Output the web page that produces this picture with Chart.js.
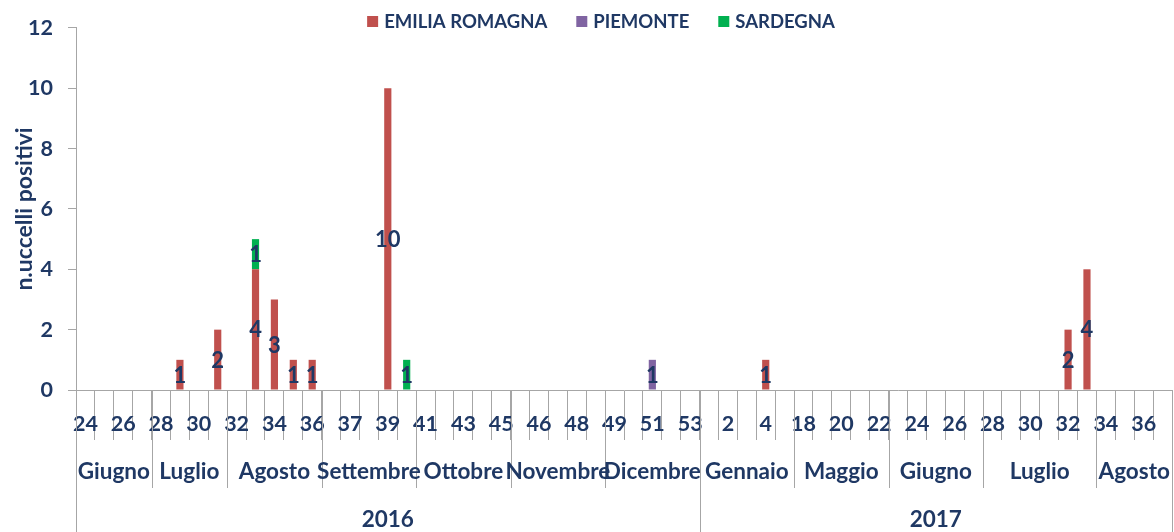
<!DOCTYPE html>
<html>
<head>
<meta charset="utf-8">
<script src="https://cdn.jsdelivr.net/npm/chart.js@4/dist/chart.umd.min.js"></script>
<style>
  body { margin: 0; background: #fff; }
  #box { width: 1174px; height: 532px; }
</style>
</head>
<body>
<div id="box"><canvas id="grafico"></canvas></div>
<script>
// settimane (una categoria per barra), raggruppate per mese e anno
const settimane = [24, 25, 26, 27, 28, 29, 30, 31, 32, 33, 34, 35, 36, 36, 37, 38, 39, 40,
    41, 42, 43, 44, 45, 45, 46, 47, 48, 49, 49, 50, 51, 52, 53,
    1, 2, 3, 4, 5, 18, 19, 20, 21, 22, 23, 24, 25, 26, 27, 28, 29, 30, 31, 32, 33, 34, 35, 36, 37];
const mesi = ['Giugno', 'Luglio', 'Agosto', 'Settembre', 'Ottobre', 'Novembre', 'Dicembre',
    'Gennaio', 'Maggio', 'Giugno', 'Luglio', 'Agosto'];
const settimanePerMese = [4, 4, 5, 5, 5, 5, 5, 5, 5, 5, 6, 4];
const anni = ['2016', '2017'];
const settimanePerAnno = [33, 25];

const emiliaRomagna = [0, 0, 0, 0, 0, 1, 0, 2, 0, 4, 3, 1, 1, 0, 0, 0, 10, 0,
    0, 0, 0, 0, 0, 0, 0, 0, 0, 0, 0, 0, 0, 0, 0,
    0, 0, 0, 1, 0, 0, 0, 0, 0, 0, 0, 0, 0, 0, 0, 0, 0, 0, 0, 2, 4, 0, 0, 0, 0];
const piemonte = [0, 0, 0, 0, 0, 0, 0, 0, 0, 0, 0, 0, 0, 0, 0, 0, 0, 0,
    0, 0, 0, 0, 0, 0, 0, 0, 0, 0, 0, 0, 1, 0, 0,
    0, 0, 0, 0, 0, 0, 0, 0, 0, 0, 0, 0, 0, 0, 0, 0, 0, 0, 0, 0, 0, 0, 0, 0, 0];
const sardegna = [0, 0, 0, 0, 0, 0, 0, 0, 0, 1, 0, 0, 0, 0, 0, 0, 0, 1,
    0, 0, 0, 0, 0, 0, 0, 0, 0, 0, 0, 0, 0, 0, 0,
    0, 0, 0, 0, 0, 0, 0, 0, 0, 0, 0, 0, 0, 0, 0, 0, 0, 0, 0, 0, 0, 0, 0, 0, 0];
const tickY = [0, 2, 4, 6, 8, 10, 12];

const BLU = '#1F3864';
const GRIGIO = '#A6A6A6';
const FONT = 'Lato';

// etichette dei valori al centro di ogni segmento
const etichetteValori = {
    id: 'etichetteValori',
    afterDatasetsDraw(chart) {
        const ctx = chart.ctx;
        ctx.save();
        ctx.font = 'bold 22px ' + FONT;
        ctx.fillStyle = BLU;
        ctx.textAlign = 'center';
        ctx.textBaseline = 'middle';
        chart.data.datasets.forEach((ds, i) => {
            chart.getDatasetMeta(i).data.forEach((bar, j) => {
                if (!ds.data[j]) return;
                ctx.fillText(ds.data[j], bar.x, (bar.y + bar.base) / 2 + 1);
            });
        });
        ctx.restore();
    }
};

// asse x a più livelli: mesi e anni sotto le settimane
const gruppiAsse = {
    id: 'gruppiAsse',
    afterDraw(chart) {
        const ctx = chart.ctx;
        const x = chart.scales.x;
        const bottom = chart.chartArea.bottom;
        const passo = x.getPixelForValue(1) - x.getPixelForValue(0);
        const bordo = i => x.getPixelForValue(0) - passo / 2 + i * passo;

        ctx.save();
        ctx.strokeStyle = GRIGIO;
        ctx.lineWidth = 1;
        ctx.fillStyle = BLU;
        ctx.textAlign = 'center';
        ctx.textBaseline = 'middle';

        ctx.font = 'bold 22.5px ' + FONT;
        let inizio = 0;
        settimanePerMese.forEach((n, k) => {
            const a = bordo(inizio), b = bordo(inizio + n);
            ctx.beginPath();
            ctx.moveTo(Math.round(b) + 0.5, bottom);
            ctx.lineTo(Math.round(b) + 0.5, bottom + 98);
            ctx.stroke();
            ctx.fillText(mesi[k], (a + b) / 2, bottom + 82);
            inizio += n;
        });

        inizio = 0;
        const linea = px => {
            ctx.beginPath();
            ctx.moveTo(Math.round(px) + 0.5, bottom);
            ctx.lineTo(Math.round(px) + 0.5, chart.height);
            ctx.stroke();
        };
        linea(bordo(0));
        settimanePerAnno.forEach((n, k) => {
            const a = bordo(inizio), b = bordo(inizio + n);
            linea(b);
            ctx.fillText(anni[k], (a + b) / 2, bottom + 130);
            inizio += n;
        });
        ctx.restore();
    }
};

// legenda in alto
const legenda = {
    id: 'legenda',
    afterDraw(chart) {
        const ctx = chart.ctx;
        ctx.save();
        ctx.font = 'bold 18.5px ' + FONT;
        ctx.textBaseline = 'middle';
        const voci = chart.data.datasets.map(ds => ({ testo: ds.label, colore: ds.backgroundColor, w: ctx.measureText(ds.label).width }));
        const totale = voci.reduce((s, v) => s + 17 + v.w, 0) + 29 * (voci.length - 1);
        let px = 601 - totale / 2;
        voci.forEach(v => {
            ctx.fillStyle = v.colore;
            ctx.fillRect(px, 16, 11, 11);
            ctx.fillStyle = BLU;
            ctx.fillText(v.testo, px + 17, 22);
            px += 17 + v.w + 29;
        });
        ctx.restore();
    }
};

new Chart(document.getElementById('grafico'), {
    type: 'bar',
    data: {
        labels: settimane.map(String),
        datasets: [{
            label: 'EMILIA ROMAGNA',
            data: emiliaRomagna,
            backgroundColor: '#C0504D'
        }, {
            label: 'PIEMONTE',
            data: piemonte,
            backgroundColor: '#8064A2'
        }, {
            label: 'SARDEGNA',
            data: sardegna,
            backgroundColor: '#00B050'
        }]
    },
    options: {
        responsive: true,
        maintainAspectRatio: false,
        animation: false,
        layout: { padding: { top: 22, right: 2, left: 0, bottom: 0 } },
        datasets: { bar: { barPercentage: 0.38, categoryPercentage: 1, borderWidth: 0 } },
        plugins: {
            legend: { display: false },
            tooltip: { enabled: false }
        },
        scales: {
            x: {
                stacked: true,
                offset: true,
                grid: { drawOnChartArea: false, tickLength: 50, color: GRIGIO, offset: true },
                border: { color: GRIGIO },
                ticks: {
                    autoSkip: false,
                    maxRotation: 0,
                    padding: -29,
                    color: BLU,
                    font: { family: FONT, size: 21.5, weight: 'bold' },
                    callback: (v, i) => i % 2 === 0 ? String(settimane[i]) : ''
                },
                afterFit: s => { s.height = 142; }
            },
            y: {
                stacked: true,
                min: 0,
                max: 12,
                afterBuildTicks: s => { s.ticks = tickY.map(v => ({ value: v })); },
                grid: { drawOnChartArea: false, tickLength: 8, color: GRIGIO },
                border: { color: GRIGIO },
                ticks: {
                    padding: 15,
                    color: BLU,
                    font: { family: FONT, size: 21.5, weight: 'bold' }
                },
                title: {
                    display: true,
                    text: 'n.uccelli positivi',
                    color: BLU,
                    font: { family: FONT, size: 23, weight: 'bold' },
                    padding: { top: 11, bottom: 0 }
                },
                afterFit: s => { s.width = 76; }
            }
        }
    },
    plugins: [etichetteValori, gruppiAsse, legenda]
});
</script>
</body>
</html>
